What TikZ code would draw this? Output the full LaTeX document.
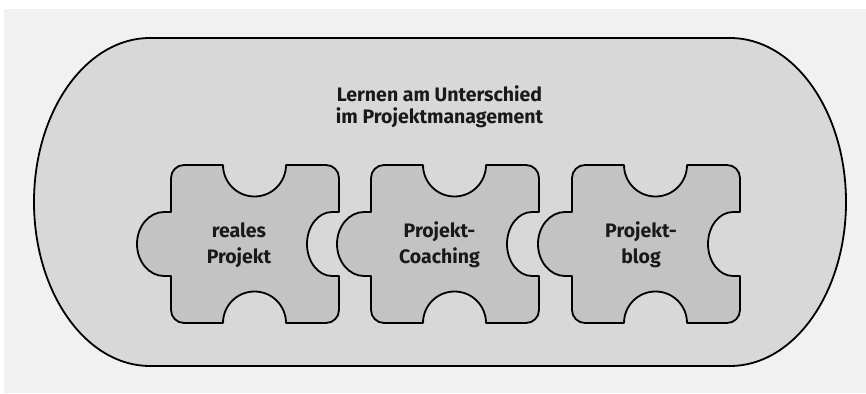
\documentclass[tikz,border=0pt]{standalone}
\usepackage{fontspec}
\setmainfont{Fira Sans}
\begin{document}
\begin{tikzpicture}[x=1pt,y=1pt,
  outline/.style={draw=black,line width=1.8pt,line join=round},
  stadiumfill/.style={outline,fill=stadiumgray},
  piecefill/.style={outline,fill=piecegray},
  piecelabel/.style={align=center,font=\fontsize{19.5}{26}\selectfont\bfseries,text=black!90},
  titlelabel/.style={align=center,font=\fontsize{19.5}{22.5}\selectfont\bfseries,text=black!90}]
\definecolor{bggray}{HTML}{F1F1F1}
\definecolor{stadiumgray}{HTML}{D8D8D8}
\definecolor{piecegray}{HTML}{C3C3C3}
\useasboundingbox (0,0) rectangle (866,393);
\fill[bggray] (4,0) rectangle (866,384);
% stadium
\path[stadiumfill] (150,355) -- (730,355)
  arc[start angle=90,end angle=-90,x radius=116,y radius=164]
  -- (150,27)
  arc[start angle=270,end angle=90,x radius=116,y radius=164] -- cycle;
\node[titlelabel] (title) at (439.5,286) {Lernen am Unterschied\\im Projektmanagement};
% puzzle pieces
\newcommand\puzzlepiece[1]{%
\path[piecefill,shift={(#1,70)}] (0,145) arc[start angle=180,end angle=90,radius=13]
  -- (52,158) arc[start angle=180,end angle=360,radius=31.5]
  -- (155,158) arc[start angle=90,end angle=0,radius=13]
  -- (168,111) -- (161,111) arc[start angle=90,end angle=270,x radius=25,y radius=32]
  -- (168,47) -- (168,13) arc[start angle=0,end angle=-90,radius=13]
  -- (115,0) arc[start angle=0,end angle=180,radius=31.5]
  -- (13,0) arc[start angle=270,end angle=180,radius=13]
  -- (0,47) -- (-7,47) arc[start angle=270,end angle=90,x radius=27,y radius=32]
  -- (0,111) -- cycle;}
\puzzlepiece{171}
\puzzlepiece{371}
\puzzlepiece{572}
\node[piecelabel] (p1) at (239,148) {reales\\Projekt};
\node[piecelabel] (p2) at (439.5,148) {Projekt-\\Coaching};
\node[piecelabel] (p3) at (641,148) {Projekt-\\blog};
\end{tikzpicture}
\end{document}
